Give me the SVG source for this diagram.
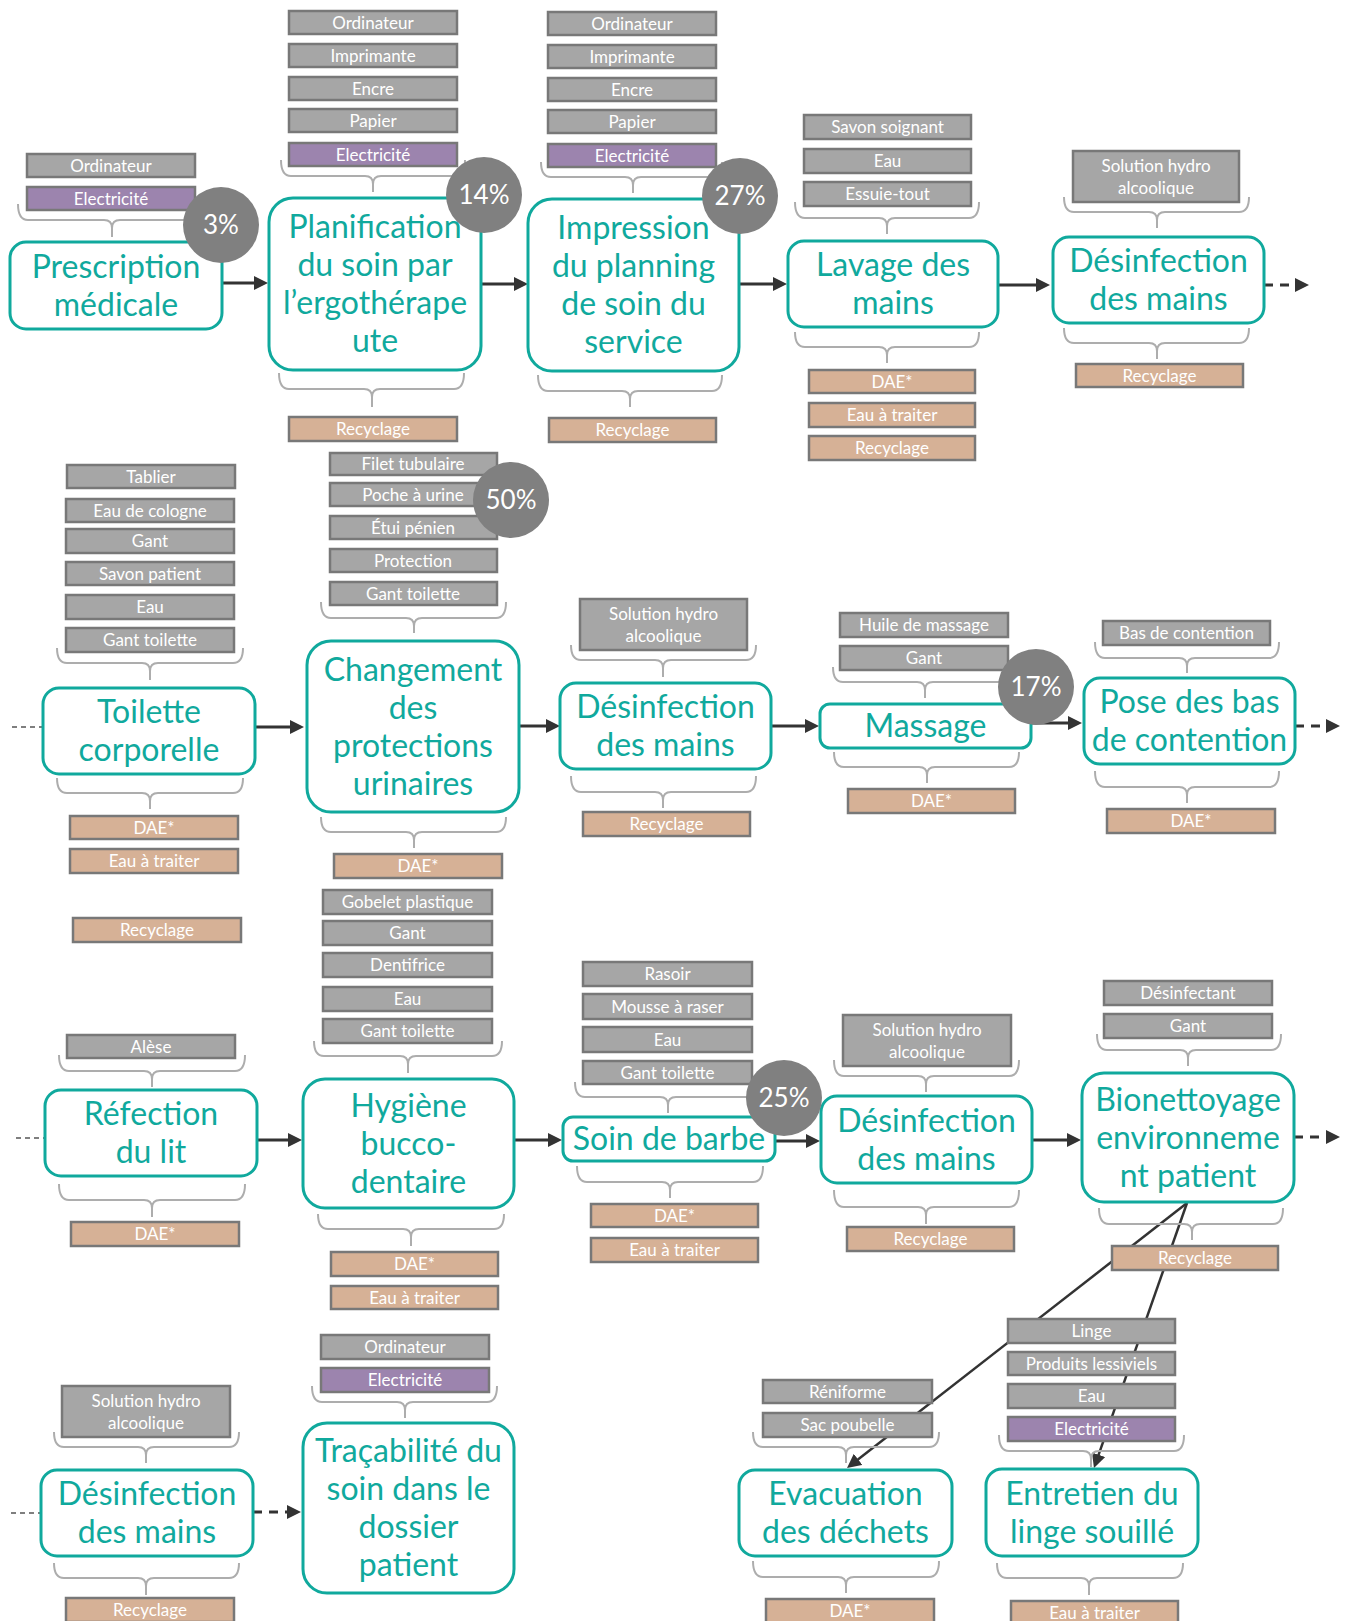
<svg xmlns="http://www.w3.org/2000/svg" width="1349" height="1621" viewBox="0 0 1349 1621">
<style>
text{font-family:Lato,"Liberation Sans",sans-serif;text-anchor:middle}
.g{fill:#A6A6A6;stroke:#787878;stroke-width:2.5}
.p{fill:#9C84AE;stroke:#787878;stroke-width:2.5}
.t{fill:#D6B196;stroke:#787878;stroke-width:2.5}
.it{font-size:17px;fill:#fff}
.nb{fill:#fff;stroke:#10A99D;stroke-width:3}
.nt{font-size:32px;fill:#10A99D}
.br{fill:none;stroke:#ADADAD;stroke-width:2}
.pc{fill:#808080}
.pt{font-size:26px;fill:#fff}
.ar{stroke:#333;stroke-width:3;fill:none;marker-end:url(#ah)}
.da{stroke:#333;stroke-width:3;fill:none;stroke-dasharray:9 7;marker-end:url(#ah)}
.dl{stroke:#555;stroke-width:1.3;fill:none;stroke-dasharray:5 4}
.dg{stroke:#333;stroke-width:2.5;fill:none;marker-end:url(#ah)}
</style>
<defs>
<marker id="ah" markerUnits="userSpaceOnUse" markerWidth="15" markerHeight="14" refX="3" refY="7" orient="auto"><path d="M0,0L14,7L0,14z" fill="#333"/></marker>
</defs>
<rect width="1349" height="1621" fill="#fff"/>
<g id="connectors">
<line class="ar" x1="222" y1="283" x2="257" y2="283"/>
<line class="ar" x1="481" y1="284" x2="517" y2="284"/>
<line class="ar" x1="739" y1="284" x2="776" y2="284"/>
<line class="ar" x1="998" y1="285" x2="1039" y2="285"/>
<line class="da" x1="1264" y1="285" x2="1298" y2="285"/>
<line class="dl" x1="12" y1="727" x2="43" y2="727"/>
<line class="ar" x1="255" y1="727" x2="293" y2="727"/>
<line class="ar" x1="519" y1="726" x2="549" y2="726"/>
<line class="ar" x1="771" y1="726" x2="808" y2="726"/>
<line class="ar" x1="1031" y1="723" x2="1071" y2="723"/>
<line class="da" x1="1295" y1="726" x2="1329" y2="726"/>
<line class="dl" x1="16" y1="1138" x2="45" y2="1138"/>
<line class="ar" x1="257" y1="1140" x2="291" y2="1140"/>
<line class="ar" x1="514" y1="1140" x2="551" y2="1140"/>
<line class="ar" x1="775" y1="1141" x2="809" y2="1141"/>
<line class="ar" x1="1032" y1="1140" x2="1070" y2="1140"/>
<line class="da" x1="1294" y1="1137" x2="1329" y2="1137"/>
<line class="dl" x1="11" y1="1513" x2="41" y2="1513"/>
<line class="da" x1="253" y1="1512" x2="290" y2="1512"/>
<line class="dg" x1="1187" y1="1203" x2="855.7" y2="1461.2"/>
<line class="dg" x1="1187" y1="1203" x2="1097.6" y2="1457.6"/>
</g>
<g id="braces">
<path class="br" d="M18 204Q18 220 28 220H104Q112 220 112 228V237M112 228Q112 220 120 220H196Q206 220 206 204"/>
<path class="br" d="M281 160Q281 176 291 176H365Q373 176 373 184V192M373 184Q373 176 381 176H455Q465 176 465 160"/>
<path class="br" d="M279 373Q279 389 289 389H364Q372 389 372 397V407M372 397Q372 389 380 389H454Q464 389 464 373"/>
<path class="br" d="M541 162Q541 177 551 177H625Q633 177 633 185V193M633 185Q633 177 641 177H712Q722 177 722 162"/>
<path class="br" d="M538 375Q538 391 548 391H622Q630 391 630 399V407M630 399Q630 391 638 391H712Q722 391 722 375"/>
<path class="br" d="M795 202Q795 218 805 218H879Q887 218 887 226V234M887 226Q887 218 895 218H969Q979 218 979 202"/>
<path class="br" d="M795 332Q795 347 805 347H879Q887 347 887 355V363M887 355Q887 347 895 347H969Q979 347 979 332"/>
<path class="br" d="M1064 197Q1064 212 1074 212H1149Q1157 212 1157 220V228M1157 220Q1157 212 1165 212H1239Q1249 212 1249 197"/>
<path class="br" d="M1064 328Q1064 343 1074 343H1149Q1157 343 1157 351V359M1157 351Q1157 343 1165 343H1239Q1249 343 1249 328"/>
<path class="br" d="M57 648Q57 663 67 663H142Q150 663 150 671V680M150 671Q150 663 158 663H233Q243 663 243 648"/>
<path class="br" d="M57 778Q57 793 67 793H142Q150 793 150 801V809M150 801Q150 793 158 793H233Q243 793 243 778"/>
<path class="br" d="M321 602Q321 618 331 618H406Q414 618 414 626V633M414 626Q414 618 422 618H496Q506 618 506 602"/>
<path class="br" d="M321 817Q321 832 331 832H406Q414 832 414 840V848M414 840Q414 832 422 832H496Q506 832 506 817"/>
<path class="br" d="M571 645Q571 660 581 660H655Q663 660 663 668V677M663 668Q663 660 671 660H746Q756 660 756 645"/>
<path class="br" d="M571 776Q571 792 581 792H655Q663 792 663 800V808M663 800Q663 792 671 792H746Q756 792 756 776"/>
<path class="br" d="M833 667Q833 682 843 682H917Q925 682 925 690V698M925 690Q925 682 933 682H1008Q1018 682 1018 667"/>
<path class="br" d="M834 752Q834 767 844 767H919Q927 767 927 775V783M927 775Q927 767 935 767H1009Q1019 767 1019 752"/>
<path class="br" d="M1095 642Q1095 658 1105 658H1179Q1187 658 1187 666V673M1187 666Q1187 658 1195 658H1269Q1279 658 1279 642"/>
<path class="br" d="M1095 771Q1095 787 1105 787H1179Q1187 787 1187 795V803M1187 795Q1187 787 1195 787H1269Q1279 787 1279 771"/>
<path class="br" d="M59 1055Q59 1071 69 1071H144Q152 1071 152 1079V1087M152 1079Q152 1071 160 1071H235Q245 1071 245 1055"/>
<path class="br" d="M59 1184Q59 1200 69 1200H144Q152 1200 152 1208V1217M152 1208Q152 1200 160 1200H235Q245 1200 245 1184"/>
<path class="br" d="M314 1041Q314 1056 324 1056H400Q408 1056 408 1064V1073M408 1064Q408 1056 416 1056H492Q502 1056 502 1041"/>
<path class="br" d="M318 1214Q318 1229 328 1229H403Q411 1229 411 1237V1246M411 1237Q411 1229 419 1229H494Q504 1229 504 1214"/>
<path class="br" d="M575 1082Q575 1097 585 1097H660Q668 1097 668 1105V1113M668 1105Q668 1097 676 1097H752Q762 1097 762 1082"/>
<path class="br" d="M577 1166Q577 1182 587 1182H662Q670 1182 670 1190V1198M670 1190Q670 1182 678 1182H753Q763 1182 763 1166"/>
<path class="br" d="M834 1060Q834 1076 844 1076H918Q926 1076 926 1084V1092M926 1084Q926 1076 934 1076H1009Q1019 1076 1019 1060"/>
<path class="br" d="M834 1190Q834 1207 844 1207H918Q926 1207 926 1215V1224M926 1215Q926 1207 934 1207H1009Q1019 1207 1019 1190"/>
<path class="br" d="M1097 1034Q1097 1050 1107 1050H1180Q1188 1050 1188 1058V1066M1188 1058Q1188 1050 1196 1050H1271Q1281 1050 1281 1034"/>
<path class="br" d="M1099 1208Q1099 1224 1109 1224H1184Q1192 1224 1192 1232V1240M1192 1232Q1192 1224 1200 1224H1273Q1283 1224 1283 1208"/>
<path class="br" d="M54 1432Q54 1447 64 1447H138Q146 1447 146 1455V1463M146 1455Q146 1447 154 1447H229Q239 1447 239 1432"/>
<path class="br" d="M54 1563Q54 1578 64 1578H138Q146 1578 146 1586V1595M146 1586Q146 1578 154 1578H229Q239 1578 239 1563"/>
<path class="br" d="M312 1386Q312 1402 322 1402H397Q405 1402 405 1410V1418M405 1410Q405 1402 413 1402H487Q497 1402 497 1386"/>
<path class="br" d="M753 1432Q753 1447 763 1447H838Q846 1447 846 1455V1463M846 1455Q846 1447 854 1447H929Q939 1447 939 1432"/>
<path class="br" d="M753 1561Q753 1577 763 1577H838Q846 1577 846 1585V1593M846 1585Q846 1577 854 1577H929Q939 1577 939 1561"/>
<path class="br" d="M999 1435Q999 1451 1009 1451H1083Q1091 1451 1091 1459V1467M1091 1459Q1091 1451 1099 1451H1174Q1184 1451 1184 1435"/>
<path class="br" d="M997 1563Q997 1578 1007 1578H1081Q1089 1578 1089 1586V1595M1089 1586Q1089 1578 1097 1578H1173Q1183 1578 1183 1563"/>
</g>
<g id="items">
<rect class="g" x="27" y="154" width="168" height="23"/><text class="it" x="111" y="171.5">Ordinateur</text>
<rect class="p" x="27" y="187" width="168" height="23"/><text class="it" x="111" y="204.5">Electricité</text>
<rect class="g" x="289" y="11" width="168" height="23"/><text class="it" x="373" y="28.5">Ordinateur</text>
<rect class="g" x="289" y="44" width="168" height="23"/><text class="it" x="373" y="61.5">Imprimante</text>
<rect class="g" x="289" y="77" width="168" height="23"/><text class="it" x="373" y="94.5">Encre</text>
<rect class="g" x="289" y="109" width="168" height="23"/><text class="it" x="373" y="126.5">Papier</text>
<rect class="p" x="289" y="143" width="168" height="23"/><text class="it" x="373" y="160.5">Electricité</text>
<rect class="t" x="289" y="417" width="168" height="24"/><text class="it" x="373" y="435">Recyclage</text>
<rect class="g" x="548" y="12" width="168" height="23"/><text class="it" x="632" y="29.5">Ordinateur</text>
<rect class="g" x="548" y="45" width="168" height="23"/><text class="it" x="632" y="62.5">Imprimante</text>
<rect class="g" x="548" y="78" width="168" height="23"/><text class="it" x="632" y="95.5">Encre</text>
<rect class="g" x="548" y="110" width="168" height="23"/><text class="it" x="632" y="127.5">Papier</text>
<rect class="p" x="548" y="144" width="168" height="23"/><text class="it" x="632" y="161.5">Electricité</text>
<rect class="t" x="549" y="418" width="167" height="24"/><text class="it" x="632.5" y="436">Recyclage</text>
<rect class="g" x="804" y="115" width="167" height="24"/><text class="it" x="887.5" y="133">Savon soignant</text>
<rect class="g" x="804" y="149" width="167" height="24"/><text class="it" x="887.5" y="167">Eau</text>
<rect class="g" x="804" y="182" width="167" height="24"/><text class="it" x="887.5" y="200">Essuie-tout</text>
<rect class="t" x="809" y="370" width="166" height="23"/><text class="it" x="892" y="387.5">DAE*</text>
<rect class="t" x="809" y="403" width="166" height="24"/><text class="it" x="892" y="421">Eau à traiter</text>
<rect class="t" x="809" y="436" width="166" height="24"/><text class="it" x="892" y="454">Recyclage</text>
<rect class="g" x="1073" y="151" width="166" height="51"/><text class="it" x="1156" y="172">Solution hydro</text><text class="it" x="1156" y="194">alcoolique</text>
<rect class="t" x="1076" y="364" width="167" height="23"/><text class="it" x="1159.5" y="381.5">Recyclage</text>
<rect class="g" x="67" y="465" width="168" height="23"/><text class="it" x="151" y="482.5">Tablier</text>
<rect class="g" x="66" y="499" width="168" height="23"/><text class="it" x="150" y="516.5">Eau de cologne</text>
<rect class="g" x="66" y="529" width="168" height="24"/><text class="it" x="150" y="547">Gant</text>
<rect class="g" x="66" y="562" width="168" height="23"/><text class="it" x="150" y="579.5">Savon patient</text>
<rect class="g" x="66" y="595" width="168" height="24"/><text class="it" x="150" y="613">Eau</text>
<rect class="g" x="66" y="628" width="168" height="24"/><text class="it" x="150" y="646">Gant toilette</text>
<rect class="t" x="70" y="816" width="168" height="23"/><text class="it" x="154" y="833.5">DAE*</text>
<rect class="t" x="70" y="849" width="168" height="24"/><text class="it" x="154" y="867">Eau à traiter</text>
<rect class="t" x="73" y="918" width="168" height="24"/><text class="it" x="157" y="936">Recyclage</text>
<rect class="g" x="330" y="453" width="167" height="22"/><text class="it" x="413" y="470">Filet tubulaire</text>
<rect class="g" x="330" y="483" width="167" height="23"/><text class="it" x="413" y="500.5">Poche à urine</text>
<rect class="g" x="330" y="516" width="167" height="23"/><text class="it" x="413" y="533.5">Étui pénien</text>
<rect class="g" x="330" y="549" width="167" height="23"/><text class="it" x="413" y="566.5">Protection</text>
<rect class="g" x="330" y="582" width="167" height="23"/><text class="it" x="413" y="599.5">Gant toilette</text>
<rect class="t" x="334" y="854" width="168" height="24"/><text class="it" x="418" y="872">DAE*</text>
<rect class="g" x="580" y="599" width="167" height="51"/><text class="it" x="663.5" y="620">Solution hydro</text><text class="it" x="663.5" y="642">alcoolique</text>
<rect class="t" x="583" y="812" width="167" height="24"/><text class="it" x="666.5" y="830">Recyclage</text>
<rect class="g" x="840" y="613" width="168" height="24"/><text class="it" x="924" y="631">Huile de massage</text>
<rect class="g" x="840" y="646" width="168" height="24"/><text class="it" x="924" y="664">Gant</text>
<rect class="t" x="848" y="789" width="167" height="24"/><text class="it" x="931.5" y="807">DAE*</text>
<rect class="g" x="1103" y="621" width="167" height="24"/><text class="it" x="1186.5" y="639">Bas de contention</text>
<rect class="t" x="1107" y="809" width="168" height="24"/><text class="it" x="1191" y="827">DAE*</text>
<rect class="g" x="67" y="1035" width="168" height="23"/><text class="it" x="151" y="1052.5">Alèse</text>
<rect class="t" x="71" y="1222" width="168" height="24"/><text class="it" x="155" y="1240">DAE*</text>
<rect class="g" x="323" y="890" width="169" height="24"/><text class="it" x="407.5" y="908">Gobelet plastique</text>
<rect class="g" x="323" y="921" width="169" height="24"/><text class="it" x="407.5" y="939">Gant</text>
<rect class="g" x="323" y="953" width="169" height="24"/><text class="it" x="407.5" y="971">Dentifrice</text>
<rect class="g" x="323" y="987" width="169" height="24"/><text class="it" x="407.5" y="1005">Eau</text>
<rect class="g" x="323" y="1019" width="169" height="24"/><text class="it" x="407.5" y="1037">Gant toilette</text>
<rect class="t" x="331" y="1252" width="167" height="24"/><text class="it" x="414.5" y="1270">DAE*</text>
<rect class="t" x="331" y="1286" width="167" height="23"/><text class="it" x="414.5" y="1303.5">Eau à traiter</text>
<rect class="g" x="583" y="962" width="169" height="24"/><text class="it" x="667.5" y="980">Rasoir</text>
<rect class="g" x="583" y="994" width="169" height="25"/><text class="it" x="667.5" y="1012.5">Mousse à raser</text>
<rect class="g" x="583" y="1027" width="169" height="25"/><text class="it" x="667.5" y="1045.5">Eau</text>
<rect class="g" x="583" y="1061" width="169" height="23"/><text class="it" x="667.5" y="1078.5">Gant toilette</text>
<rect class="t" x="591" y="1204" width="167" height="23"/><text class="it" x="674.5" y="1221.5">DAE*</text>
<rect class="t" x="591" y="1238" width="167" height="24"/><text class="it" x="674.5" y="1256">Eau à traiter</text>
<rect class="g" x="843" y="1015" width="168" height="51"/><text class="it" x="927" y="1036">Solution hydro</text><text class="it" x="927" y="1058">alcoolique</text>
<rect class="t" x="847" y="1227" width="167" height="24"/><text class="it" x="930.5" y="1245">Recyclage</text>
<rect class="g" x="1104" y="981" width="168" height="24"/><text class="it" x="1188" y="999">Désinfectant</text>
<rect class="g" x="1104" y="1014" width="168" height="24"/><text class="it" x="1188" y="1032">Gant</text>
<rect class="t" x="1112" y="1246" width="166" height="24"/><text class="it" x="1195" y="1264">Recyclage</text>
<rect class="g" x="62" y="1386" width="168" height="51"/><text class="it" x="146" y="1407">Solution hydro</text><text class="it" x="146" y="1429">alcoolique</text>
<rect class="t" x="66" y="1598" width="168" height="24"/><text class="it" x="150" y="1616">Recyclage</text>
<rect class="g" x="321" y="1335" width="168" height="24"/><text class="it" x="405" y="1353">Ordinateur</text>
<rect class="p" x="321" y="1368" width="168" height="24"/><text class="it" x="405" y="1386">Electricité</text>
<rect class="g" x="763" y="1380" width="169" height="23"/><text class="it" x="847.5" y="1397.5">Réniforme</text>
<rect class="g" x="763" y="1413" width="169" height="24"/><text class="it" x="847.5" y="1431">Sac poubelle</text>
<rect class="t" x="766" y="1599" width="168" height="24"/><text class="it" x="850" y="1617">DAE*</text>
<rect class="g" x="1008" y="1319" width="167" height="24"/><text class="it" x="1091.5" y="1337">Linge</text>
<rect class="g" x="1008" y="1352" width="167" height="23"/><text class="it" x="1091.5" y="1369.5">Produits lessiviels</text>
<rect class="g" x="1008" y="1384" width="167" height="24"/><text class="it" x="1091.5" y="1402">Eau</text>
<rect class="p" x="1008" y="1417" width="167" height="24"/><text class="it" x="1091.5" y="1435">Electricité</text>
<rect class="t" x="1011" y="1601" width="167" height="24"/><text class="it" x="1094.5" y="1619">Eau à traiter</text>
</g>
<g id="n1"><rect class="nb" x="10" y="242" width="212" height="87" rx="16"/><text class="nt" x="116" y="277.5">Prescription</text><text class="nt" x="116" y="315.5">médicale</text></g>
<g id="n2"><rect class="nb" x="269" y="198" width="212" height="172" rx="24"/><text class="nt" x="375" y="238">Planification</text><text class="nt" x="375" y="276">du soin par</text><text class="nt" x="375" y="314">l’ergothérape</text><text class="nt" x="375" y="352">ute</text></g>
<g id="n3"><rect class="nb" x="528" y="199" width="211" height="172" rx="24"/><text class="nt" x="633.5" y="239">Impression</text><text class="nt" x="633.5" y="277">du planning</text><text class="nt" x="633.5" y="315">de soin du</text><text class="nt" x="633.5" y="353">service</text></g>
<g id="n4"><rect class="nb" x="788" y="241" width="210" height="86" rx="16"/><text class="nt" x="893" y="276">Lavage des</text><text class="nt" x="893" y="314">mains</text></g>
<g id="n5"><rect class="nb" x="1053" y="237" width="211" height="86" rx="16"/><text class="nt" x="1158.5" y="272">Désinfection</text><text class="nt" x="1158.5" y="310">des mains</text></g>
<g id="n6"><rect class="nb" x="43" y="688" width="212" height="86" rx="16"/><text class="nt" x="149" y="723">Toilette</text><text class="nt" x="149" y="761">corporelle</text></g>
<g id="n7"><rect class="nb" x="307" y="641" width="212" height="171" rx="24"/><text class="nt" x="413" y="680.5">Changement</text><text class="nt" x="413" y="718.5">des</text><text class="nt" x="413" y="756.5">protections</text><text class="nt" x="413" y="794.5">urinaires</text></g>
<g id="n8"><rect class="nb" x="560" y="683" width="211" height="86" rx="16"/><text class="nt" x="665.5" y="718">Désinfection</text><text class="nt" x="665.5" y="756">des mains</text></g>
<g id="n9"><rect class="nb" x="820" y="704" width="211" height="44" rx="10"/><text class="nt" x="925.5" y="737">Massage</text></g>
<g id="n10"><rect class="nb" x="1084" y="678" width="211" height="86" rx="16"/><text class="nt" x="1189.5" y="713">Pose des bas</text><text class="nt" x="1189.5" y="751">de contention</text></g>
<g id="n11"><rect class="nb" x="45" y="1090" width="212" height="86" rx="16"/><text class="nt" x="151" y="1125">Réfection</text><text class="nt" x="151" y="1163">du lit</text></g>
<g id="n12"><rect class="nb" x="303" y="1079" width="211" height="129" rx="22"/><text class="nt" x="408.5" y="1116.5">Hygiène</text><text class="nt" x="408.5" y="1154.5">bucco-</text><text class="nt" x="408.5" y="1192.5">dentaire</text></g>
<g id="n13"><rect class="nb" x="563" y="1117" width="212" height="44" rx="10"/><text class="nt" x="669" y="1150">Soin de barbe</text></g>
<g id="n14"><rect class="nb" x="821" y="1096" width="211" height="87" rx="16"/><text class="nt" x="926.5" y="1131.5">Désinfection</text><text class="nt" x="926.5" y="1169.5">des mains</text></g>
<g id="n15"><rect class="nb" x="1082" y="1073" width="212" height="129" rx="22"/><text class="nt" x="1188" y="1110.5">Bionettoyage</text><text class="nt" x="1188" y="1148.5">environneme</text><text class="nt" x="1188" y="1186.5">nt patient</text></g>
<g id="n16"><rect class="nb" x="41" y="1470" width="212" height="86" rx="16"/><text class="nt" x="147" y="1505">Désinfection</text><text class="nt" x="147" y="1543">des mains</text></g>
<g id="n17"><rect class="nb" x="303" y="1423" width="211" height="170" rx="24"/><text class="nt" x="408.5" y="1462">Traçabilité du</text><text class="nt" x="408.5" y="1500">soin dans le</text><text class="nt" x="408.5" y="1538">dossier</text><text class="nt" x="408.5" y="1576">patient</text></g>
<g id="n18"><rect class="nb" x="739" y="1470" width="213" height="86" rx="16"/><text class="nt" x="845.5" y="1505">Evacuation</text><text class="nt" x="845.5" y="1543">des déchets</text></g>
<g id="n19"><rect class="nb" x="986" y="1469" width="212" height="87" rx="16"/><text class="nt" x="1092" y="1504.5">Entretien du</text><text class="nt" x="1092" y="1542.5">linge souillé</text></g>
<g id="percentages">
<circle class="pc" cx="221" cy="225" r="38"/><text class="pt" x="221" y="234">3%</text>
<circle class="pc" cx="484" cy="195" r="38"/><text class="pt" x="484" y="204">14%</text>
<circle class="pc" cx="740" cy="196" r="38"/><text class="pt" x="740" y="205">27%</text>
<circle class="pc" cx="511" cy="500" r="38"/><text class="pt" x="511" y="509">50%</text>
<circle class="pc" cx="1036" cy="687" r="38"/><text class="pt" x="1036" y="696">17%</text>
<circle class="pc" cx="784" cy="1098" r="38"/><text class="pt" x="784" y="1107">25%</text>
</g>
</svg>
